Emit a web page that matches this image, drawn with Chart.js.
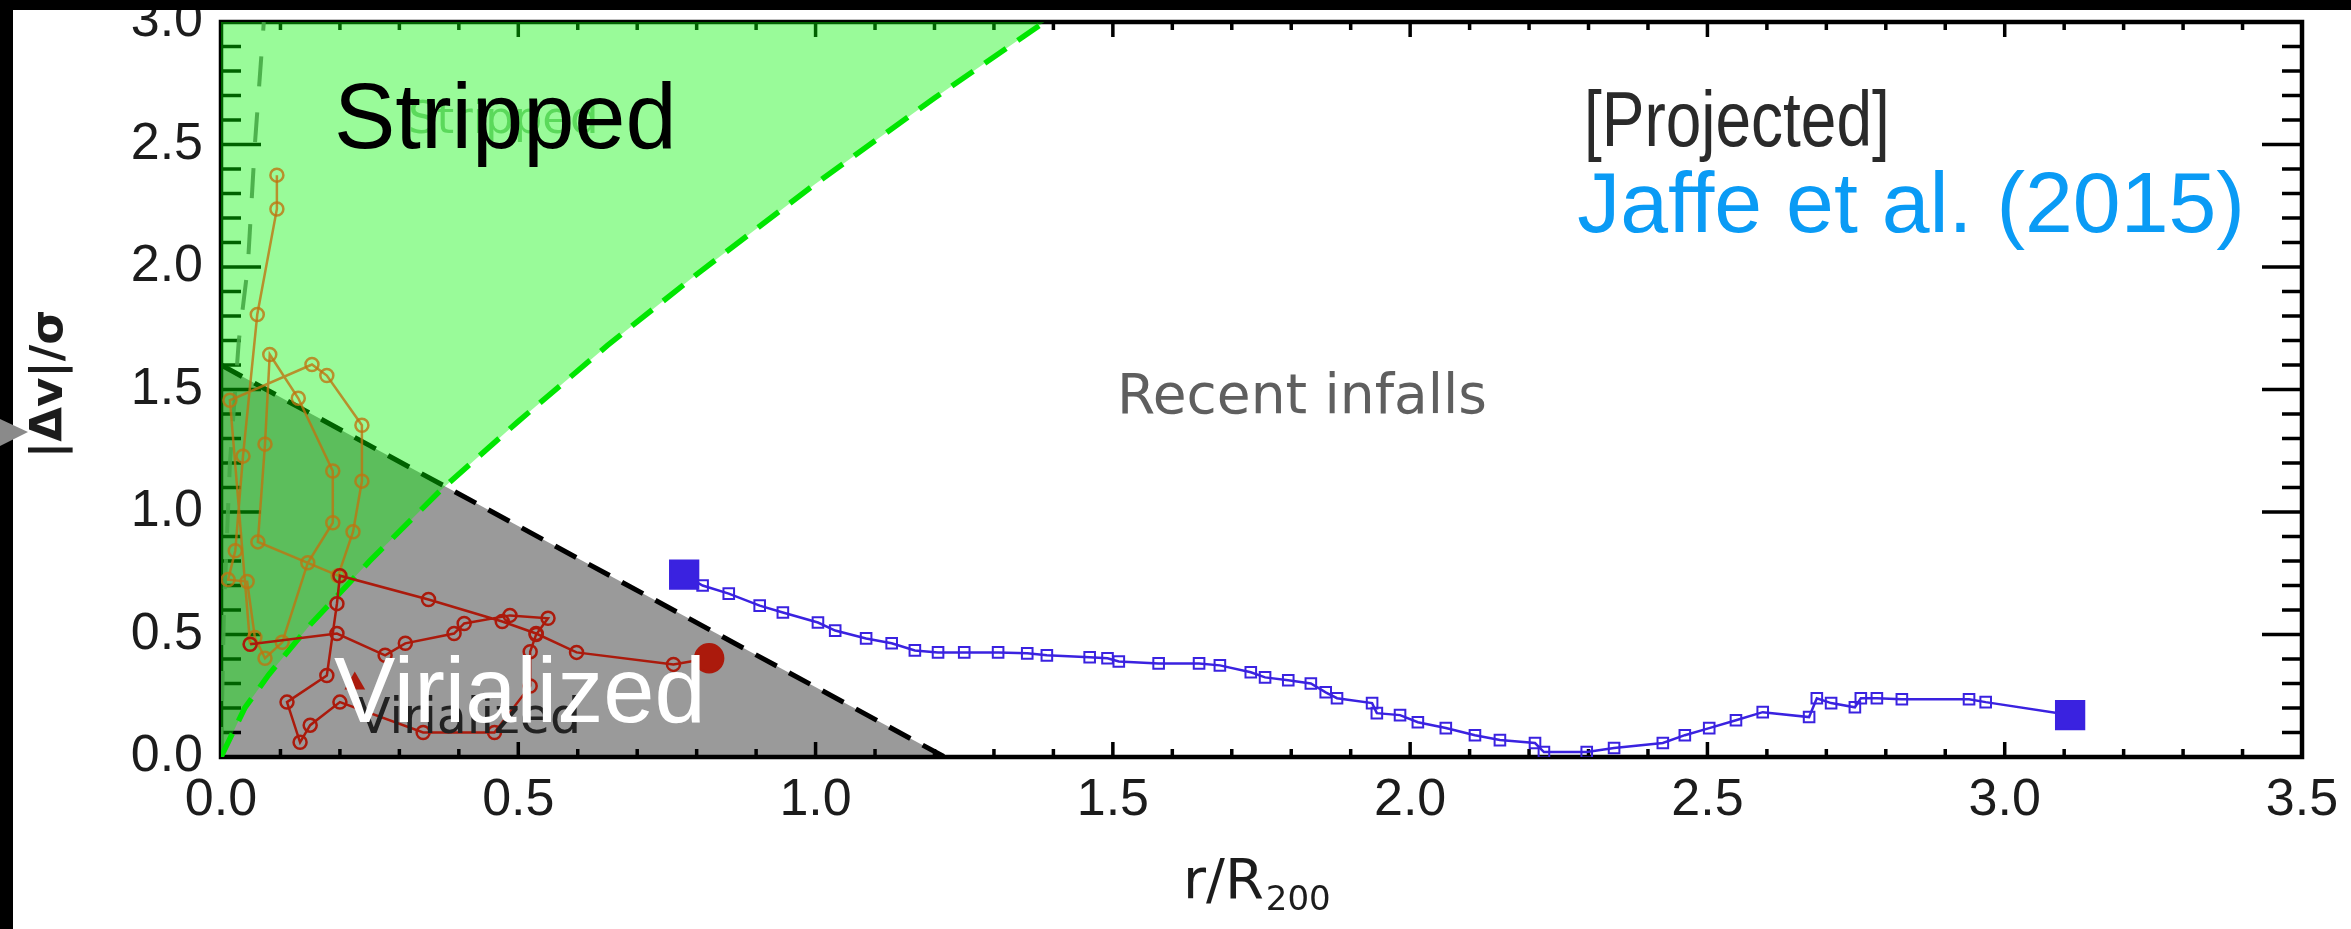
<!DOCTYPE html>
<html>
<head>
<meta charset="utf-8">
<title>Projected phase space</title>
<script src="https://cdn.jsdelivr.net/npm/chart.js@4.4.1/dist/chart.umd.min.js"></script>
<style>
  html,body{margin:0;padding:0;background:#fff;overflow:hidden;}
  canvas{display:block;}
</style>
</head>
<body>
<canvas id="phaseChart" width="2351" height="929"></canvas>

<script>

// ============================
// DATA
// ============================

const xTickValues = [0, 0.5, 1.0, 1.5, 2.0, 2.5, 3.0, 3.5];
const xTickLabels = ["0.0","0.5","1.0","1.5","2.0","2.5","3.0","3.5"];
const yTickValues = [0, 0.5, 1.0, 1.5, 2.0, 2.5, 3.0];
const yTickLabels = ["0.0","0.5","1.0","1.5","2.0","2.5","3.0"];

// region edges
const strippedEdgeX = [0, 0.04, 0.08, 0.15, 0.25, 0.37, 0.5, 0.65, 0.8, 1.0, 1.2, 1.385];
const strippedEdgeY = [0, 0.20, 0.335, 0.54, 0.80, 1.09, 1.37, 1.68, 1.97, 2.34, 2.69, 3.0];

const virialEdgeX = [0, 1.217];
const virialEdgeY = [1.6, 0];

const innerEdgeX = [0, 0.005, 0.015, 0.03, 0.045, 0.057, 0.072];
const innerEdgeY = [0, 0.6, 1.2, 1.7, 2.0, 2.5, 3.0];

// galaxy tracks
const orangeX = [0.094,0.094,0.061,0.037,0.024,0.012,0.044,0.057,0.074,0.103,0.146,0.188,0.188,0.13,0.082,0.074,0.062,0.197,0.222,0.237,0.237,0.178,0.153,0.015,0.049];
const orangeY = [2.375,2.237,1.806,1.228,0.842,0.724,0.716,0.488,0.403,0.468,0.793,0.956,1.167,1.464,1.643,1.277,0.878,0.74,0.919,1.126,1.354,1.557,1.602,1.456,0.46];

const redX = [0.049,0.195,0.276,0.31,0.392,0.409,0.486,0.55,0.53,0.52,0.52,0.46,0.34,0.20,0.15,0.133,0.111,0.178,0.195,0.20,0.349,0.473,0.53,0.598,0.761,0.821];
const redY = [0.46,0.504,0.415,0.464,0.504,0.545,0.578,0.566,0.50,0.43,0.29,0.10,0.10,0.224,0.13,0.06,0.224,0.333,0.626,0.74,0.643,0.553,0.504,0.427,0.378,0.403];

const redStartX = [0.225];
const redStartY = [0.30];

const blueX = [0.779,0.81,0.854,0.906,0.945,1.004,1.033,1.085,1.128,1.167,1.206,1.25,1.307,1.356,1.389,1.461,1.491,1.51,1.577,1.645,1.68,1.732,1.756,1.795,1.833,1.858,1.877,1.936,1.944,1.983,2.013,2.06,2.109,2.151,2.21,2.225,2.297,2.343,2.425,2.462,2.503,2.548,2.593,2.671,2.684,2.708,2.748,2.758,2.785,2.827,2.94,2.968,3.11];
const blueY = [0.744,0.70,0.667,0.618,0.59,0.549,0.516,0.484,0.464,0.435,0.427,0.427,0.427,0.423,0.415,0.407,0.403,0.39,0.382,0.382,0.374,0.346,0.325,0.313,0.30,0.264,0.24,0.22,0.179,0.171,0.142,0.118,0.089,0.069,0.057,0.02,0.02,0.037,0.057,0.089,0.118,0.15,0.183,0.163,0.24,0.22,0.203,0.24,0.24,0.236,0.236,0.224,0.171];


function toPoints(xs, ys){
  return xs.map((x,i)=>({x:x, y:ys[i]}));
}


// ============================
// IDL STYLE AXES (drawn right after the grey region, under the green one)
// ============================

const idlAxes = {
  id:"idlAxes",
  afterDatasetDraw(chart, args){
    if(args.index !== 0) return;

    const ctx = chart.ctx;
    const xs = chart.scales.x;
    const ys = chart.scales.y;
    const {left, right, top, bottom} = chart.chartArea;

    ctx.save();
    ctx.strokeStyle = "#000";
    ctx.lineCap = "butt";

    // minor ticks every 0.1, major every 0.5
    ctx.lineWidth = 3.5;
    for(let i=0;i<=35;i++){
      const px = xs.getPixelForValue(i/10);
      const len = i%5===0 ? 15 : 8;
      ctx.beginPath();
      ctx.moveTo(px,bottom); ctx.lineTo(px,bottom-len);
      ctx.moveTo(px,top); ctx.lineTo(px,top+len);
      ctx.stroke();
    }
    for(let i=0;i<=30;i++){
      const py = ys.getPixelForValue(i/10);
      const len = i%5===0 ? 40 : 20;
      ctx.beginPath();
      ctx.moveTo(left,py); ctx.lineTo(left+len,py);
      ctx.moveTo(right,py); ctx.lineTo(right-len,py);
      ctx.stroke();
    }

    ctx.lineWidth = 4.5;
    ctx.strokeRect(left, top, right-left, bottom-top);
    ctx.restore();
  }
};


// ============================
// TEXT, FRAME BARS
// ============================

const overlay = {
  id:"overlay",
  afterDraw(chart){
    const ctx = chart.ctx;
    ctx.save();
    ctx.textAlign = "left";
    ctx.textBaseline = "alphabetic";

    // original figure labels, partly hidden
    ctx.font = '45px "DejaVu Sans"';
    ctx.fillStyle = "rgba(40,190,40,0.55)";
    ctx.fillText("Stripped", 408, 133);

    ctx.font = '49px "DejaVu Sans"';
    ctx.fillStyle = "#222";
    ctx.fillText("Virialized", 357, 733);

    ctx.font = '55px "DejaVu Sans"';
    ctx.fillStyle = "#5f5f5f";
    ctx.fillText("Recent infalls", 1117, 413);

    // narrow IDL lettering
    ctx.save();
    ctx.translate(1584, 146);
    ctx.scale(0.82, 1);
    ctx.font = '78px "Liberation Sans"';
    ctx.fillStyle = "#2a2a2a";
    ctx.fillText("[Projected]", 0, 0);
    ctx.restore();

    // overlay labels
    ctx.font = '92px "Liberation Sans"';
    ctx.fillStyle = "#000";
    ctx.fillText("Stripped", 334, 148);

    ctx.fillStyle = "#fff";
    ctx.fillText("Virialized", 334, 722);

    ctx.font = '86px "Liberation Sans"';
    ctx.fillStyle = "#0a9bf5";
    ctx.textAlign = "right";
    ctx.fillText("Jaffe et al. (2015)", 2245, 232);

    // axis titles
    ctx.textAlign = "left";
    ctx.fillStyle = "#1c1c1c";
    ctx.font = '56px "DejaVu Sans"';
    ctx.fillText("r/R", 1183, 898);
    const w = ctx.measureText("r/R").width;
    ctx.font = '34px "DejaVu Sans"';
    ctx.fillText("200", 1183 + w + 2, 910);

    ctx.save();
    ctx.translate(50, 384);
    ctx.rotate(-Math.PI/2);
    ctx.textAlign = "center";
    ctx.textBaseline = "middle";
    ctx.font = 'bold 45px "DejaVu Sans"';
    ctx.fillText("|\u0394v|/\u03c3", 0, 0);
    ctx.restore();

    // photo frame edges
    ctx.fillStyle = "#000";
    ctx.fillRect(0, 0, chart.width, 10);
    ctx.fillRect(0, 0, 13, chart.height);

    ctx.fillStyle = "#8a8a8a";
    ctx.beginPath();
    ctx.moveTo(0, 419);
    ctx.lineTo(28, 432);
    ctx.lineTo(0, 446);
    ctx.closePath();
    ctx.fill();

    ctx.restore();
  }
};


// ============================
// CHART
// ============================

const tickFont = {family:"Liberation Sans", size:52};

const redLast = redX.length - 1;
const blueLast = blueX.length - 1;

new Chart(document.getElementById("phaseChart"),{
  type:"line",
  data:{
    datasets:[
      {
        // virialized region
        data:toPoints(virialEdgeX, virialEdgeY),
        order:10,
        borderColor:"#000",
        borderWidth:5,
        borderDash:[24,14],
        backgroundColor:"#9a9a9a",
        fill:"origin",
        pointRadius:0
      },
      {
        data:toPoints(innerEdgeX, innerEdgeY),
        order:9,
        borderColor:"rgba(115,120,115,0.9)",
        borderWidth:4,
        borderDash:[30,26],
        fill:false,
        pointRadius:0
      },
      {
        // stripped region
        data:toPoints(strippedEdgeX, strippedEdgeY),
        order:8,
        borderColor:"#00e600",
        borderWidth:5.5,
        borderDash:[26,14],
        backgroundColor:"rgba(0,245,0,0.4)",
        fill:"end",
        pointRadius:0
      },
      {
        data:toPoints(orangeX, orangeY),
        order:6,
        borderColor:"rgba(190,118,16,0.8)",
        borderWidth:2.5,
        pointStyle:"circle",
        pointRadius:6.5,
        pointBorderWidth:2.5,
        pointBorderColor:"rgba(190,118,16,0.8)",
        pointBackgroundColor:"rgba(0,0,0,0)",
        fill:false
      },
      {
        data:toPoints(redX, redY),
        order:5,
        borderColor:"#ab1a0c",
        borderWidth:2.5,
        pointStyle:"circle",
        pointRadius:c=>c.dataIndex===redLast ? 14 : 6.5,
        pointBorderWidth:2.5,
        pointBorderColor:"#ab1a0c",
        pointBackgroundColor:c=>c.dataIndex===redLast ? "#ab1a0c" : "rgba(0,0,0,0)",
        fill:false
      },
      {
        data:toPoints(redStartX, redStartY),
        order:4,
        showLine:false,
        pointStyle:"triangle",
        pointRadius:12,
        pointBorderWidth:0,
        pointBackgroundColor:"#ab1a0c"
      },
      {
        data:toPoints(blueX, blueY),
        order:3,
        borderColor:"#3a22e0",
        borderWidth:2.5,
        pointStyle:"rect",
        pointRadius:c=>(c.dataIndex===0 || c.dataIndex===blueLast) ? 20 : 7.5,
        pointBorderWidth:2,
        pointBorderColor:"#3a22e0",
        pointBackgroundColor:c=>(c.dataIndex===0 || c.dataIndex===blueLast) ? "#3a22e0" : "rgba(0,0,0,0)",
        fill:false
      }
    ]
  },
  options:{
    responsive:false,
    animation:false,
    layout:{padding:{left:0, right:49, top:19, bottom:0}},
    elements:{line:{tension:0}},
    plugins:{
      legend:{display:false},
      tooltip:{enabled:false}
    },
    scales:{
      x:{
        type:"linear",
        min:0,
        max:3.5,
        afterBuildTicks:s=>{ s.ticks = xTickValues.map(v=>({value:v})); },
        afterFit:s=>{ s.height = 172; s.paddingLeft = 0; s.paddingRight = 0; },
        ticks:{
          callback:(v,i)=>xTickLabels[i],
          font:tickFont,
          color:"#1c1c1c",
          padding:12,
          maxRotation:0,
          autoSkip:false
        },
        grid:{display:false, drawTicks:false},
        border:{display:false}
      },
      y:{
        type:"linear",
        min:0,
        max:3,
        afterBuildTicks:s=>{ s.ticks = yTickValues.map(v=>({value:v})); },
        afterFit:s=>{ s.width = 221; s.paddingTop = 0; s.paddingBottom = 0; },
        ticks:{
          callback:(v,i)=>yTickLabels[i],
          font:tickFont,
          color:"#1c1c1c",
          padding:18,
          autoSkip:false
        },
        grid:{display:false, drawTicks:false},
        border:{display:false}
      }
    }
  },
  plugins:[idlAxes, overlay]
});

</script>
</body>
</html>
